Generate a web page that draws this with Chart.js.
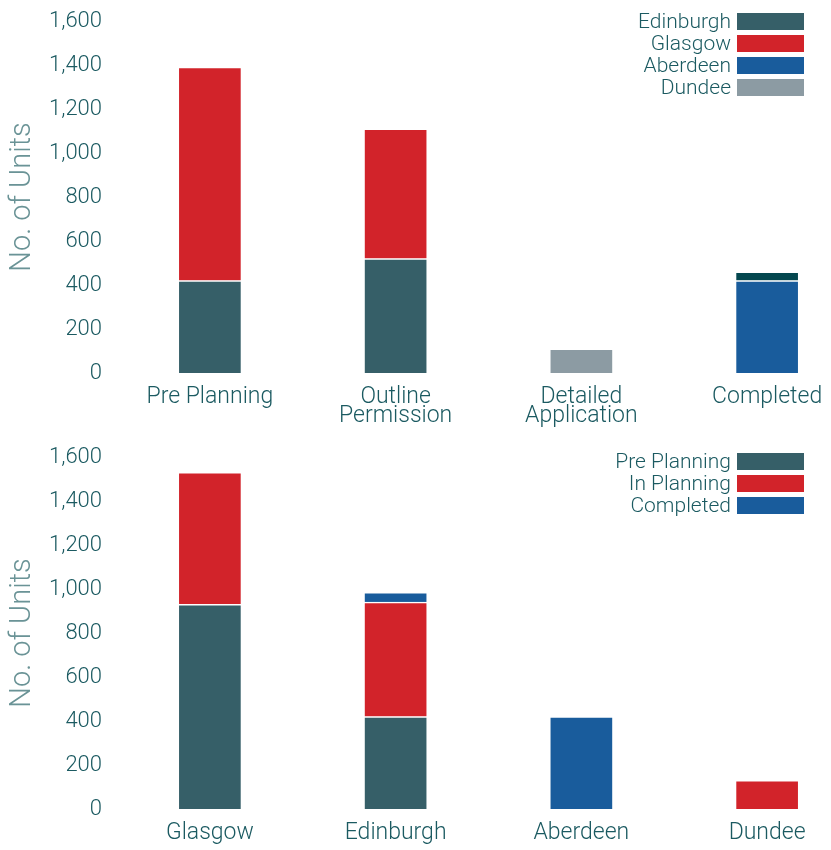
<!DOCTYPE html>
<html>
<head>
<meta charset="utf-8">
<script src="https://cdn.jsdelivr.net/npm/chart.js@4"></script>
<style>
  html, body { margin: 0; padding: 0; background: #fff; overflow: hidden; }
  body { width: 831px; height: 850px; position: relative; font-family: Roboto, "Liberation Sans", sans-serif; }
  .panel { position: absolute; left: 0; width: 860px; height: 430px; }
  .legend { position: absolute; right: 27px; font-size: 21px; font-weight: 300; color: #1b5a61; line-height: 22px; }
  .legend div { display: flex; justify-content: flex-end; align-items: center; }
  .legend span.box { display: inline-block; width: 67px; height: 17px; margin-left: 6px; }
</style>
</head>
<body>
<div class="panel" style="top:0"><canvas id="grafico-etapas"></canvas></div>
<div class="panel" style="top:436px"><canvas id="grafico-ciudades"></canvas></div>
<div class="legend" id="leyenda-etapas" style="top:10px"></div>
<div class="legend" id="leyenda-ciudades" style="top:450px"></div>
<script>
// Datos: gráfico superior (por etapa)
const stageLabels = [['Pre Planning'], ['Outline', 'Permission'], ['Detailed', 'Application'], ['Completed']];
const edinburghUnits = [420, 520, 0, 40];
const glasgowUnits = [970, 590, 0, 0];
const aberdeenUnits = [0, 0, 0, 420];
const dundeeUnits = [0, 0, 110, 0];

// Datos: gráfico inferior (por ciudad)
const cityLabels = ['Glasgow', 'Edinburgh', 'Aberdeen', 'Dundee'];
const prePlanningUnits = [930, 420, 0, 0];
const inPlanningUnits = [600, 520, 0, 130];
const completedUnits = [0, 45, 420, 0];

const yTicks = [0, 200, 400, 600, 800, 1000, 1200, 1400, 1600];

const colores = {
    teal: '#365f68',
    tealOscuro: '#04474f',
    rojo: '#d2232a',
    azul: '#195c9c',
    gris: '#8c9ba3'
};
const colorTexto = '#1b5a61';
const colorTitulo = '#6a9396';
const fuente = 'Roboto, "Liberation Sans", sans-serif';

function opcionesComunes() {
    return {
        responsive: true,
        maintainAspectRatio: false,
        animation: false,
        layout: { padding: { top: 21, right: 0, bottom: 0, left: 0 } },
        plugins: { legend: { display: false }, tooltip: { enabled: false } },
        datasets: { bar: { barThickness: 64, borderColor: '#ffffff', borderWidth: 1.5 } },
        scales: {
            x: {
                stacked: true,
                grid: { display: false, drawTicks: false },
                border: { display: false },
                ticks: { color: colorTexto, font: { family: fuente, size: 23, weight: 300, lineHeight: 0.83 }, padding: 15, maxRotation: 0, autoSkip: false },
                afterFit: (s) => { s.height = 57; }
            },
            y: {
                stacked: true,
                min: 0,
                max: 1600,
                afterBuildTicks: (s) => { s.ticks = yTicks.map(v => ({ value: v })); },
                afterFit: (s) => { s.width = 117; s.paddingTop = 0; s.paddingBottom = 0; },
                grid: { display: false, drawTicks: false },
                border: { display: false },
                ticks: {
                    color: colorTexto,
                    font: { family: fuente, size: 22, weight: 300 },
                    padding: 15,
                    callback: (value) => value.toLocaleString('en-US')
                },
                title: {
                    display: true,
                    text: 'No. of Units',
                    color: colorTitulo,
                    font: { family: fuente, size: 29, weight: 300 },
                    padding: { top: 5, bottom: 0 }
                }
            }
        }
    };
}

// Gráfico superior
new Chart(document.getElementById('grafico-etapas'), {
    type: 'bar',
    data: {
        labels: stageLabels,
        datasets: [
            { label: 'Aberdeen', data: aberdeenUnits, backgroundColor: colores.azul },
            { label: 'Dundee', data: dundeeUnits, backgroundColor: colores.gris },
            { label: 'Edinburgh', data: edinburghUnits, backgroundColor: [colores.teal, colores.teal, colores.teal, colores.tealOscuro] },
            { label: 'Glasgow', data: glasgowUnits, backgroundColor: colores.rojo }
        ]
    },
    options: opcionesComunes()
});

// Gráfico inferior
new Chart(document.getElementById('grafico-ciudades'), {
    type: 'bar',
    data: {
        labels: cityLabels,
        datasets: [
            { label: 'Pre Planning', data: prePlanningUnits, backgroundColor: colores.teal },
            { label: 'In Planning', data: inPlanningUnits, backgroundColor: colores.rojo },
            { label: 'Completed', data: completedUnits, backgroundColor: colores.azul }
        ]
    },
    options: opcionesComunes()
});

// Leyendas HTML (texto a la izquierda, caja a la derecha)
function construirLeyenda(id, items) {
    const cont = document.getElementById(id);
    items.forEach(([texto, color]) => {
        const fila = document.createElement('div');
        fila.innerHTML = `<span>${texto}</span><span class="box" style="background:${color}"></span>`;
        cont.appendChild(fila);
    });
}
construirLeyenda('leyenda-etapas', [['Edinburgh', colores.teal], ['Glasgow', colores.rojo], ['Aberdeen', colores.azul], ['Dundee', colores.gris]]);
construirLeyenda('leyenda-ciudades', [['Pre Planning', colores.teal], ['In Planning', colores.rojo], ['Completed', colores.azul]]);
</script>
</body>
</html>
